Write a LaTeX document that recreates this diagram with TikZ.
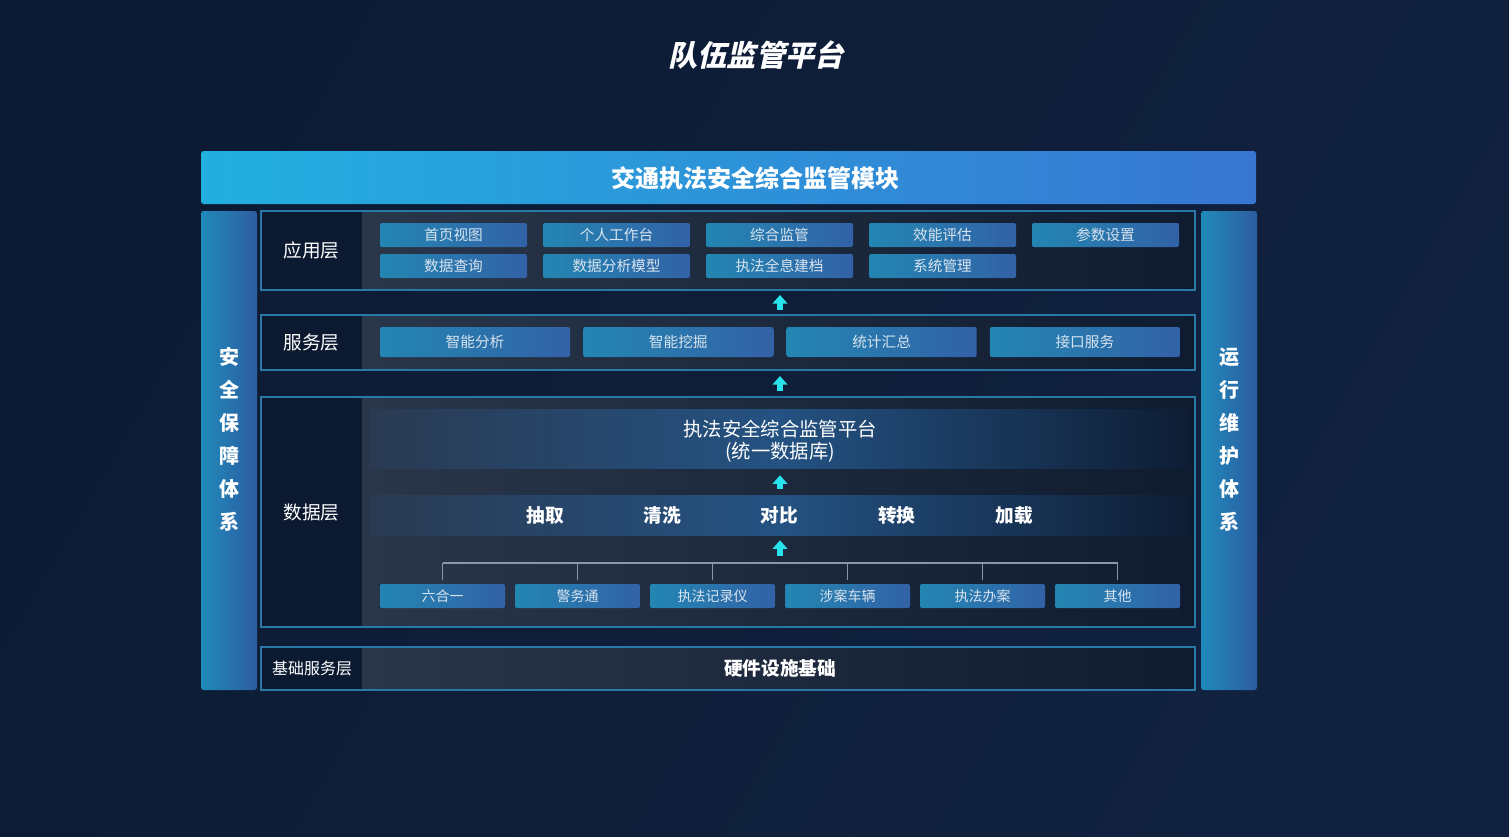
\documentclass[tikz,border=0pt]{standalone}
\usepackage{fontspec}
\setmainfont{Noto Sans CJK SC}
\newfontfamily\titlefont[FakeSlant=0.22]{Noto Sans CJK SC}
\usetikzlibrary{arrows.meta, calc}

\begin{document}
\begin{tikzpicture}[x=0.75pt, y=-0.75pt,
    sidebar/.style={rounded corners=2pt, left color=sideLeft, right color=sideRight, minimum width=42pt, minimum height=359.25pt, inner sep=0pt},
    sidetext/.style={text=white, align=center, font=\fontsize{15}{24.75}\selectfont\bfseries},
    layerlabel/.style={text=white, font=\fontsize{14}{16}\selectfont},
    appitem/.style={rounded corners=1.5pt, left color=itemLeft, right color=itemRight, text=itemText, minimum width=110.25pt, minimum height=18pt, inner sep=0pt, font=\fontsize{11}{13}\selectfont},
    svcitem/.style={appitem, minimum width=142.5pt, minimum height=22.5pt},
    srcitem/.style={appitem, minimum width=93.75pt, font=\fontsize{10.5}{12}\selectfont},
    band/.style={left color=bandLeft, right color=bandRight, middle color=bandMid, minimum width=615pt, inner sep=0pt},
    etltext/.style={text=white, font=\fontsize{14}{16}\selectfont\bfseries},
    uparrow/.style={draw=arrowColour, line width=4pt, -{Triangle[width=11pt, length=6.5pt]}},
    tree/.style={draw=treeColour, line width=1.1pt}
]
    % Define colours
    \definecolor{bgColour}{HTML}{0C1B33}
    \definecolor{bgLight}{HTML}{112240}
    \definecolor{bannerLeft}{HTML}{22B0DF}
    \definecolor{bannerRight}{HTML}{3876D2}
    \definecolor{sideLeft}{HTML}{1F8ABA}
    \definecolor{sideRight}{HTML}{2D5DA2}
    \definecolor{layerBorder}{HTML}{2A78A6}
    \definecolor{labelFill}{HTML}{0B1A31}
    \definecolor{areaLeft}{HTML}{2A3649}
    \definecolor{areaRight}{HTML}{0F1B2F}
    \definecolor{itemLeft}{HTML}{2386B2}
    \definecolor{itemRight}{HTML}{3262A7}
    \definecolor{itemText}{HTML}{D8E4EF}
    \definecolor{bandLeft}{HTML}{2A3A52}
    \definecolor{bandMid}{HTML}{245282}
    \definecolor{bandRight}{HTML}{0E1D34}
    \definecolor{arrowColour}{HTML}{28E3EC}
    \definecolor{treeColour}{HTML}{8C97A6}

    % Background
    \useasboundingbox (0,0) rectangle (1509,836);
    \shade[left color=bgColour, right color=bgLight, shading angle=60] (0,0) rectangle (1509,836);

    % Title
    \node[text=white, font=\fontsize{22}{24}\selectfont\titlefont\bfseries] (title) at (756,55) {队伍监管平台};

    % Top banner
    \node[rounded corners=2pt, left color=bannerLeft, right color=bannerRight, minimum width=791.25pt, minimum height=39.75pt, inner sep=0pt] (banner) at (728.5,177.5) {};
    \node[text=white, font=\fontsize{18}{20}\selectfont\bfseries] (bannerText) at (755.5,178) {交通执法安全综合监管模块};

    % Side columns
    \node[sidebar] (safety) at (229,450.5) {};
    \node[sidebar] (maintain) at (1229,450.5) {};
    \node[sidetext] (safetyText) at (229,439.5) {安\\全\\保\\障\\体\\系};
    \node[sidetext] (maintainText) at (1229,439.5) {运\\行\\维\\护\\体\\系};

    % Layers
    \foreach \name/\top/\bot in {app/211/290, svc/315/370, dat/397/627, base/647/690}{
        \fill[labelFill] (261,\top) rectangle (362,\bot);
        \shade[left color=areaLeft, right color=areaRight] (362,\top) rectangle (1195,\bot);
        \draw[layerBorder, line width=1.1pt] (261,\top) rectangle (1195,\bot);
        \coordinate (\name Top) at (780,\top);
        \coordinate (\name Bot) at (780,\bot);
    }
    \node[layerlabel] (appLabel) at (311.5,250.5) {应用层};
    \node[layerlabel] (svcLabel) at (311.5,342.5) {服务层};
    \node[layerlabel] (datLabel) at (311.5,512) {数据层};
    \node[layerlabel, font=\fontsize{12}{14}\selectfont] (baseLabel) at (312,668.5) {基础服务层};
    \node[etltext] (hardware) at (780,668.5) {硬件设施基础};

    % Application layer items
    \foreach \item [count=\i] in {首页视图,个人工作台,综合监管,效能评估,参数设置}
        \node[appitem] (appA\i) at ({453.5+163*(\i-1)},235) {\item};
    \foreach \item [count=\i] in {数据查询,数据分析模型,执法全息建档,系统管理}
        \node[appitem] (appB\i) at ({453.5+163*(\i-1)},266) {\item};

    % Service layer items
    \foreach \item [count=\i] in {智能分析,智能挖掘,统计汇总,接口服务}
        \node[svcitem] (svc\i) at ({475+203.3*(\i-1)},342) {\item};

    % Data layer
    \node[band, minimum height=44.25pt] (platform) at (780,438.5) {};
    \node[text=white, align=center, font=\fontsize{14.5}{16.5}\selectfont] (platformText) at (780,441) {执法安全综合监管平台\\(统一数据库)};
    \node[band, minimum height=30pt] (etlBand) at (780,515) {};
    \foreach \word [count=\i] in {抽取,清洗,对比,转换,加载}
        \node[etltext] (etl\i) at ({545+117.25*(\i-1)},515) {\word};
    \foreach \item [count=\i] in {六合一,警务通,执法记录仪,涉案车辆,执法办案,其他}
        \node[srcitem] (src\i) at ({442.5+135*(\i-1)},596) {\item};

    % Source tree
    \coordinate (bus) at (780,563);
    \draw[tree] (src1.north |- bus) -- (src6.north |- bus);
    \foreach \i in {1,...,6}
        \draw[tree, shorten <=3pt] (src\i.north) -- (src\i.north |- bus);

    % Arrows between layers
    \draw[uparrow, shorten <=5.25pt, shorten >=3.75pt] (bus) -- (etlBand.south);
    \draw[uparrow, shorten <=4.5pt, shorten >=5.25pt] (etlBand.north) -- (platform.south);
    \draw[uparrow, shorten <=4.5pt, shorten >=4.5pt] (datTop) -- (svcBot);
    \draw[uparrow, shorten <=3.75pt, shorten >=3.75pt] (svcTop) -- (appBot);

\end{tikzpicture}
\end{document}
